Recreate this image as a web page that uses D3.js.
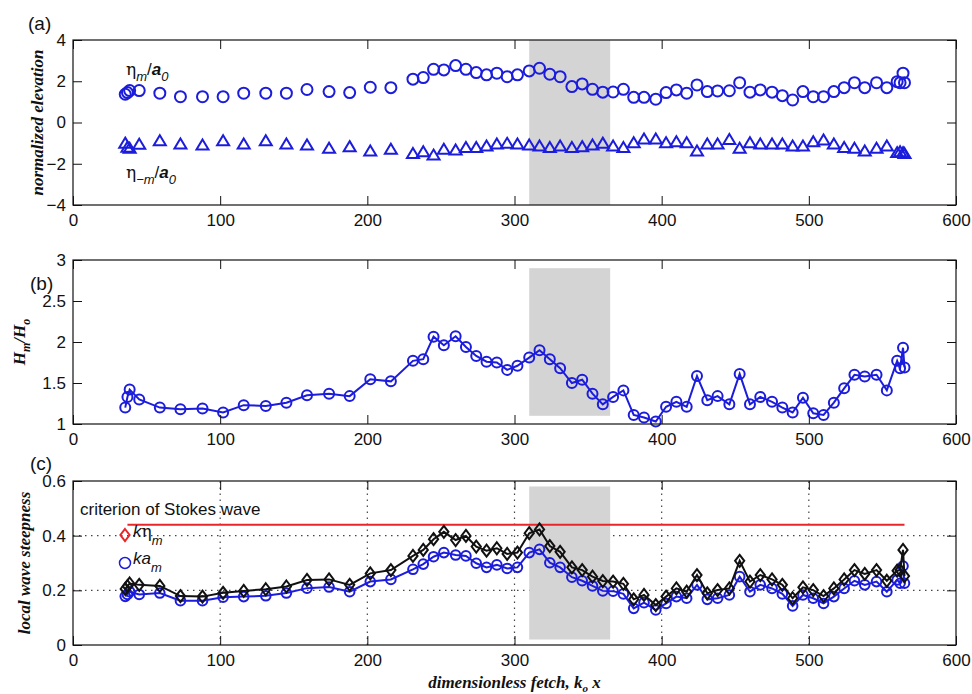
<!DOCTYPE html>
<html>
<head>
<meta charset="utf-8">
<script src="https://cdn.jsdelivr.net/npm/d3@7"></script>
<style>
body { margin: 0; background: #fff; }
.tick text { font-family: "Liberation Sans", Arial, sans-serif; font-size: 17px; fill: #111; }
.tick line { stroke: #111; }
.lab { font-family: "Liberation Serif", "Times New Roman", serif; font-size: 17px; font-weight: bold; font-style: italic; fill: #111; }
.txt { font-family: "Liberation Sans", Arial, sans-serif; font-size: 17px; fill: #111; }
</style>
</head>
<body>
<div id="chart"></div>
<script>
// dimensionless fetch k0 x of each measuring point
var fetchX = [35.5, 37, 38.5, 45, 59, 73, 88, 102, 116, 131, 145, 159, 174, 188, 202, 216,
  231, 238, 245, 252, 260, 267, 274, 281, 288, 295, 302, 310, 317, 324, 331, 339, 346, 353, 360, 367, 374,
  381, 388, 396, 403, 410, 417, 424, 431, 438, 446, 453, 460, 467, 475, 482, 489, 496, 503, 510, 517, 524, 531, 538, 546, 553,
  560, 562, 564, 565];

// (a) eta_m / a0 (crests) and eta_-m / a0 (troughs)
var etaCrest = [1.37, 1.45, 1.55, 1.55, 1.42, 1.25, 1.25, 1.25, 1.42, 1.42, 1.42, 1.60, 1.50, 1.45, 1.71, 1.69,
  2.10, 2.18, 2.58, 2.55, 2.76, 2.58, 2.42, 2.31, 2.39, 2.22, 2.31, 2.50, 2.63, 2.34, 2.22, 1.74, 1.87, 1.61, 1.47, 1.48, 1.61,
  1.22, 1.22, 1.13, 1.45, 1.58, 1.42, 1.82, 1.50, 1.53, 1.54, 1.93, 1.47, 1.58, 1.47, 1.30, 1.09, 1.50, 1.25, 1.25, 1.50, 1.69, 1.93, 1.69, 1.93, 1.69,
  1.98, 1.93, 2.39, 1.93];
var etaTrough = [-1.00, -1.20, -1.25, -1.05, -0.88, -1.04, -1.09, -0.88, -1.04, -0.88, -1.04, -1.09, -1.25, -1.17, -1.38, -1.30,
  -1.50, -1.42, -1.58, -1.30, -1.33, -1.21, -1.21, -1.14, -1.04, -1.01, -1.04, -1.09, -1.14, -1.21, -1.14, -1.21, -1.17, -1.09, -1.00, -1.14, -1.21,
  -0.98, -0.80, -0.80, -0.98, -0.93, -0.98, -1.38, -1.04, -1.04, -0.82, -1.25, -0.98, -1.04, -1.04, -1.04, -1.14, -1.14, -0.93, -0.85, -1.04, -1.21, -1.25, -1.38, -1.25, -1.14,
  -1.46, -1.42, -1.46, -1.50];

// (b) Hm / Ho
var heightRatio = [1.20, 1.33, 1.42, 1.30, 1.20, 1.18, 1.19, 1.14, 1.23, 1.22, 1.26, 1.35, 1.37, 1.34, 1.545, 1.52,
  1.77, 1.79, 2.065, 1.96, 2.07, 1.94, 1.83, 1.76, 1.75, 1.66, 1.71, 1.81, 1.90, 1.79, 1.68, 1.50, 1.54, 1.37, 1.24, 1.33, 1.41,
  1.11, 1.08, 1.03, 1.21, 1.27, 1.21, 1.585, 1.29, 1.34, 1.24, 1.61, 1.24, 1.33, 1.27, 1.20, 1.14, 1.32, 1.13, 1.11, 1.26, 1.435, 1.60, 1.58, 1.60, 1.41,
  1.77, 1.68, 1.93, 1.69];

// (c) local wave steepness: k*eta_m and k*a_m
var kEta = [0.205, 0.215, 0.225, 0.22, 0.216, 0.179, 0.177, 0.191, 0.198, 0.204, 0.214, 0.238, 0.24, 0.22, 0.262, 0.274,
  0.326, 0.348, 0.387, 0.414, 0.384, 0.399, 0.36, 0.345, 0.354, 0.333, 0.338, 0.409, 0.423, 0.362, 0.341, 0.284, 0.274, 0.25, 0.234, 0.232, 0.224,
  0.167, 0.183, 0.146, 0.177, 0.207, 0.195, 0.256, 0.189, 0.201, 0.207, 0.308, 0.232, 0.256, 0.24, 0.22, 0.171, 0.211, 0.201, 0.179, 0.207, 0.24, 0.274, 0.26, 0.274, 0.235,
  0.272, 0.274, 0.348, 0.252];
var kA = [0.178, 0.185, 0.195, 0.185, 0.19, 0.162, 0.162, 0.175, 0.177, 0.18, 0.19, 0.208, 0.212, 0.195, 0.232, 0.24,
  0.277, 0.296, 0.323, 0.338, 0.329, 0.326, 0.299, 0.284, 0.293, 0.28, 0.284, 0.338, 0.35, 0.301, 0.284, 0.248, 0.235, 0.216, 0.198, 0.197, 0.187,
  0.134, 0.155, 0.128, 0.152, 0.177, 0.171, 0.22, 0.167, 0.171, 0.183, 0.25, 0.195, 0.22, 0.207, 0.187, 0.143, 0.183, 0.171, 0.152, 0.177, 0.207, 0.235, 0.22, 0.232, 0.195,
  0.238, 0.226, 0.289, 0.226];

var stokesLimit = 0.44;
var stokesRange = [37, 565];
var shadeX = [310, 365];

var xTicks = [0, 100, 200, 300, 400, 500, 600];
var yTicksA = [-4, -2, 0, 2, 4];
var yTicksB = [1, 1.5, 2, 2.5, 3];
var yTicksC = [0, 0.2, 0.4, 0.6];

var width = 972;
var height = 694;
var blue = "#1c1cdc";

var svg = d3.select("#chart")
  .append("svg")
  .attr("width", width)
  .attr("height", height);

var x = d3.scaleLinear().domain([0, 600]).range([73, 956]);
var yA = d3.scaleLinear().domain([-4, 4]).range([205, 40]);
var yB = d3.scaleLinear().domain([1, 3]).range([424, 260]);
var yC = d3.scaleLinear().domain([0, 0.6]).range([645, 481]);

var rows = fetchX.map(function(d, i) {
  return { x: d, crest: etaCrest[i], trough: etaTrough[i], h: heightRatio[i], keta: kEta[i], ka: kA[i] };
});

function grid(y, yt) {
  var g = svg.append("g");
  g.selectAll(".gx").data(xTicks.slice(1, -1)).enter().append("line")
    .attr("x1", x).attr("x2", x)
    .attr("y1", y.range()[0]).attr("y2", y.range()[1])
    .attr("stroke", "#444").attr("stroke-width", 1.2).attr("stroke-dasharray", "1.5,4.5");
  g.selectAll(".gy").data(yt.slice(1, -1)).enter().append("line")
    .attr("x1", x.range()[0]).attr("x2", x.range()[1])
    .attr("y1", y).attr("y2", y)
    .attr("stroke", "#444").attr("stroke-width", 1.2).attr("stroke-dasharray", "1.5,4.5");
}

function shade(y, lo, hi) {
  svg.append("rect")
    .attr("x", x(shadeX[0])).attr("width", x(shadeX[1]) - x(shadeX[0]))
    .attr("y", y(hi)).attr("height", y(lo) - y(hi))
    .attr("fill", "#d4d4d4");
}

function frame(y, yt, fmt) {
  var top = y.range()[1], bot = y.range()[0];
  svg.append("g").attr("transform", "translate(0," + bot + ")")
    .call(d3.axisBottom(x).tickValues(xTicks).tickSizeInner(-9).tickSizeOuter(0).tickPadding(9));
  svg.append("g").attr("transform", "translate(0," + top + ")")
    .call(d3.axisTop(x).tickValues(xTicks).tickSizeInner(-9).tickSizeOuter(0).tickFormat(""));
  svg.append("g").attr("transform", "translate(" + x.range()[0] + ",0)")
    .call(d3.axisLeft(y).tickValues(yt).tickSizeInner(-9).tickSizeOuter(0).tickPadding(7).tickFormat(fmt));
  svg.append("g").attr("transform", "translate(" + x.range()[1] + ",0)")
    .call(d3.axisRight(y).tickValues(yt).tickSizeInner(-9).tickSizeOuter(0).tickFormat(""));
  svg.selectAll(".domain").remove();
  svg.append("rect")
    .attr("x", x.range()[0]).attr("y", top)
    .attr("width", x.range()[1] - x.range()[0]).attr("height", bot - top)
    .attr("fill", "none").attr("stroke", "#111").attr("stroke-width", 1.2);
}

var tri = "M0,-5.5L6,4.5L-6,4.5Z";
var diamond = "M0,-6L4.6,0L0,6L-4.6,0Z";

// ---- panel (a)
shade(yA, -4, 4);
svg.append("g").selectAll("circle").data(rows).enter().append("circle")
  .attr("cx", function(d) { return x(d.x); })
  .attr("cy", function(d) { return yA(d.crest); })
  .attr("r", 5.5).attr("fill", "none").attr("stroke", blue).attr("stroke-width", 2);
svg.append("g").selectAll("path").data(rows).enter().append("path")
  .attr("d", tri)
  .attr("transform", function(d) { return "translate(" + x(d.x) + "," + yA(d.trough) + ")"; })
  .attr("fill", "none").attr("stroke", blue).attr("stroke-width", 2);
frame(yA, yTicksA, d3.format("d"));

// ---- panel (b)
shade(yB, 1.1, 2.9);
svg.append("path").datum(rows)
  .attr("d", d3.line().x(function(d) { return x(d.x); }).y(function(d) { return yB(d.h); }))
  .attr("fill", "none").attr("stroke", blue).attr("stroke-width", 2);
svg.append("g").selectAll("circle").data(rows).enter().append("circle")
  .attr("cx", function(d) { return x(d.x); })
  .attr("cy", function(d) { return yB(d.h); })
  .attr("r", 5).attr("fill", "none").attr("stroke", blue).attr("stroke-width", 2);
frame(yB, yTicksB, function(d) { return String(d); });

// ---- panel (c)
grid(yC, yTicksC);
shade(yC, 0.02, 0.58);
svg.append("line")
  .attr("x1", x(stokesRange[0])).attr("x2", x(stokesRange[1]))
  .attr("y1", yC(stokesLimit)).attr("y2", yC(stokesLimit))
  .attr("stroke", "#e8262a").attr("stroke-width", 2);
svg.append("path").datum(rows)
  .attr("d", d3.line().x(function(d) { return x(d.x); }).y(function(d) { return yC(d.ka); }))
  .attr("fill", "none").attr("stroke", blue).attr("stroke-width", 2);
svg.append("g").selectAll("circle").data(rows).enter().append("circle")
  .attr("cx", function(d) { return x(d.x); })
  .attr("cy", function(d) { return yC(d.ka); })
  .attr("r", 4.8).attr("fill", "none").attr("stroke", blue).attr("stroke-width", 2);
svg.append("path").datum(rows)
  .attr("d", d3.line().x(function(d) { return x(d.x); }).y(function(d) { return yC(d.keta); }))
  .attr("fill", "none").attr("stroke", "#111").attr("stroke-width", 2);
svg.append("g").selectAll("path").data(rows).enter().append("path")
  .attr("d", diamond)
  .attr("transform", function(d) { return "translate(" + x(d.x) + "," + yC(d.keta) + ")"; })
  .attr("fill", "none").attr("stroke", "#111").attr("stroke-width", 2);
frame(yC, yTicksC, function(d) { return String(d); });

// ---- panel letters and labels
svg.append("text").attr("class", "txt").attr("x", 28).attr("y", 30).style("font-size", "19px").text("(a)");
svg.append("text").attr("class", "txt").attr("x", 30).attr("y", 290).style("font-size", "19px").text("(b)");
svg.append("text").attr("class", "txt").attr("x", 30).attr("y", 470).style("font-size", "19px").text("(c)");

svg.append("text").attr("class", "lab")
  .attr("transform", "translate(43," + ((40 + 205) / 2) + ") rotate(-90)")
  .attr("text-anchor", "middle").text("normalized elevation");

var hl = svg.append("text").attr("class", "lab")
  .attr("transform", "translate(25," + ((260 + 424) / 2) + ") rotate(-90)")
  .attr("text-anchor", "middle");
hl.append("tspan").text("H");
hl.append("tspan").attr("dy", 5).style("font-size", "12px").text("m");
hl.append("tspan").attr("dy", -5).text("/H");
hl.append("tspan").attr("dy", 5).style("font-size", "12px").text("o");

svg.append("text").attr("class", "lab")
  .attr("transform", "translate(30," + ((481 + 645) / 2) + ") rotate(-90)")
  .attr("text-anchor", "middle").text("local wave steepness");

var xl = svg.append("text").attr("class", "lab")
  .attr("x", (73 + 956) / 2).attr("y", 688).attr("text-anchor", "middle");
xl.append("tspan").text("dimensionless fetch, k");
xl.append("tspan").attr("dy", 4).style("font-size", "11px").text("o");
xl.append("tspan").attr("dy", -4).text(" x");

// annotations in (a)
var t1 = svg.append("text").attr("class", "txt").attr("x", 126).attr("y", 75);
t1.append("tspan").style("font-family", "'DejaVu Serif', serif").text("η");
t1.append("tspan").attr("dy", 6).style("font-size", "13px").style("font-style", "italic").text("m");
t1.append("tspan").attr("dy", -6).text("/");
t1.append("tspan").style("font-style", "italic").style("font-weight", "bold").text("a");
t1.append("tspan").attr("dy", 6).style("font-size", "13px").style("font-style", "italic").text("0");

var t2 = svg.append("text").attr("class", "txt").attr("x", 126).attr("y", 178);
t2.append("tspan").style("font-family", "'DejaVu Serif', serif").text("η");
t2.append("tspan").attr("dy", 6).style("font-size", "13px").style("font-style", "italic").text("−m");
t2.append("tspan").attr("dy", -6).text("/");
t2.append("tspan").style("font-style", "italic").style("font-weight", "bold").text("a");
t2.append("tspan").attr("dy", 6).style("font-size", "13px").style("font-style", "italic").text("0");

// legend in (c)
svg.append("text").attr("class", "txt").attr("x", 80).attr("y", 515).text("criterion of Stokes wave");
svg.append("path").attr("d", diamond).attr("transform", "translate(125,535)")
  .attr("fill", "none").attr("stroke", "#e8262a").attr("stroke-width", 2);
var l1 = svg.append("text").attr("class", "txt").attr("x", 133).attr("y", 537);
l1.append("tspan").style("font-style", "italic").text("k");
l1.append("tspan").style("font-family", "'DejaVu Serif', serif").text("η");
l1.append("tspan").attr("dy", 8).style("font-size", "13px").style("font-style", "italic").text("m");
svg.append("circle").attr("cx", 125).attr("cy", 563).attr("r", 5.5)
  .attr("fill", "none").attr("stroke", blue).attr("stroke-width", 1.5);
var l2 = svg.append("text").attr("class", "txt").attr("x", 133).attr("y", 564);
l2.append("tspan").style("font-style", "italic").text("ka");
l2.append("tspan").attr("dy", 8).style("font-size", "13px").style("font-style", "italic").text("m");
</script>
</body>
</html>
